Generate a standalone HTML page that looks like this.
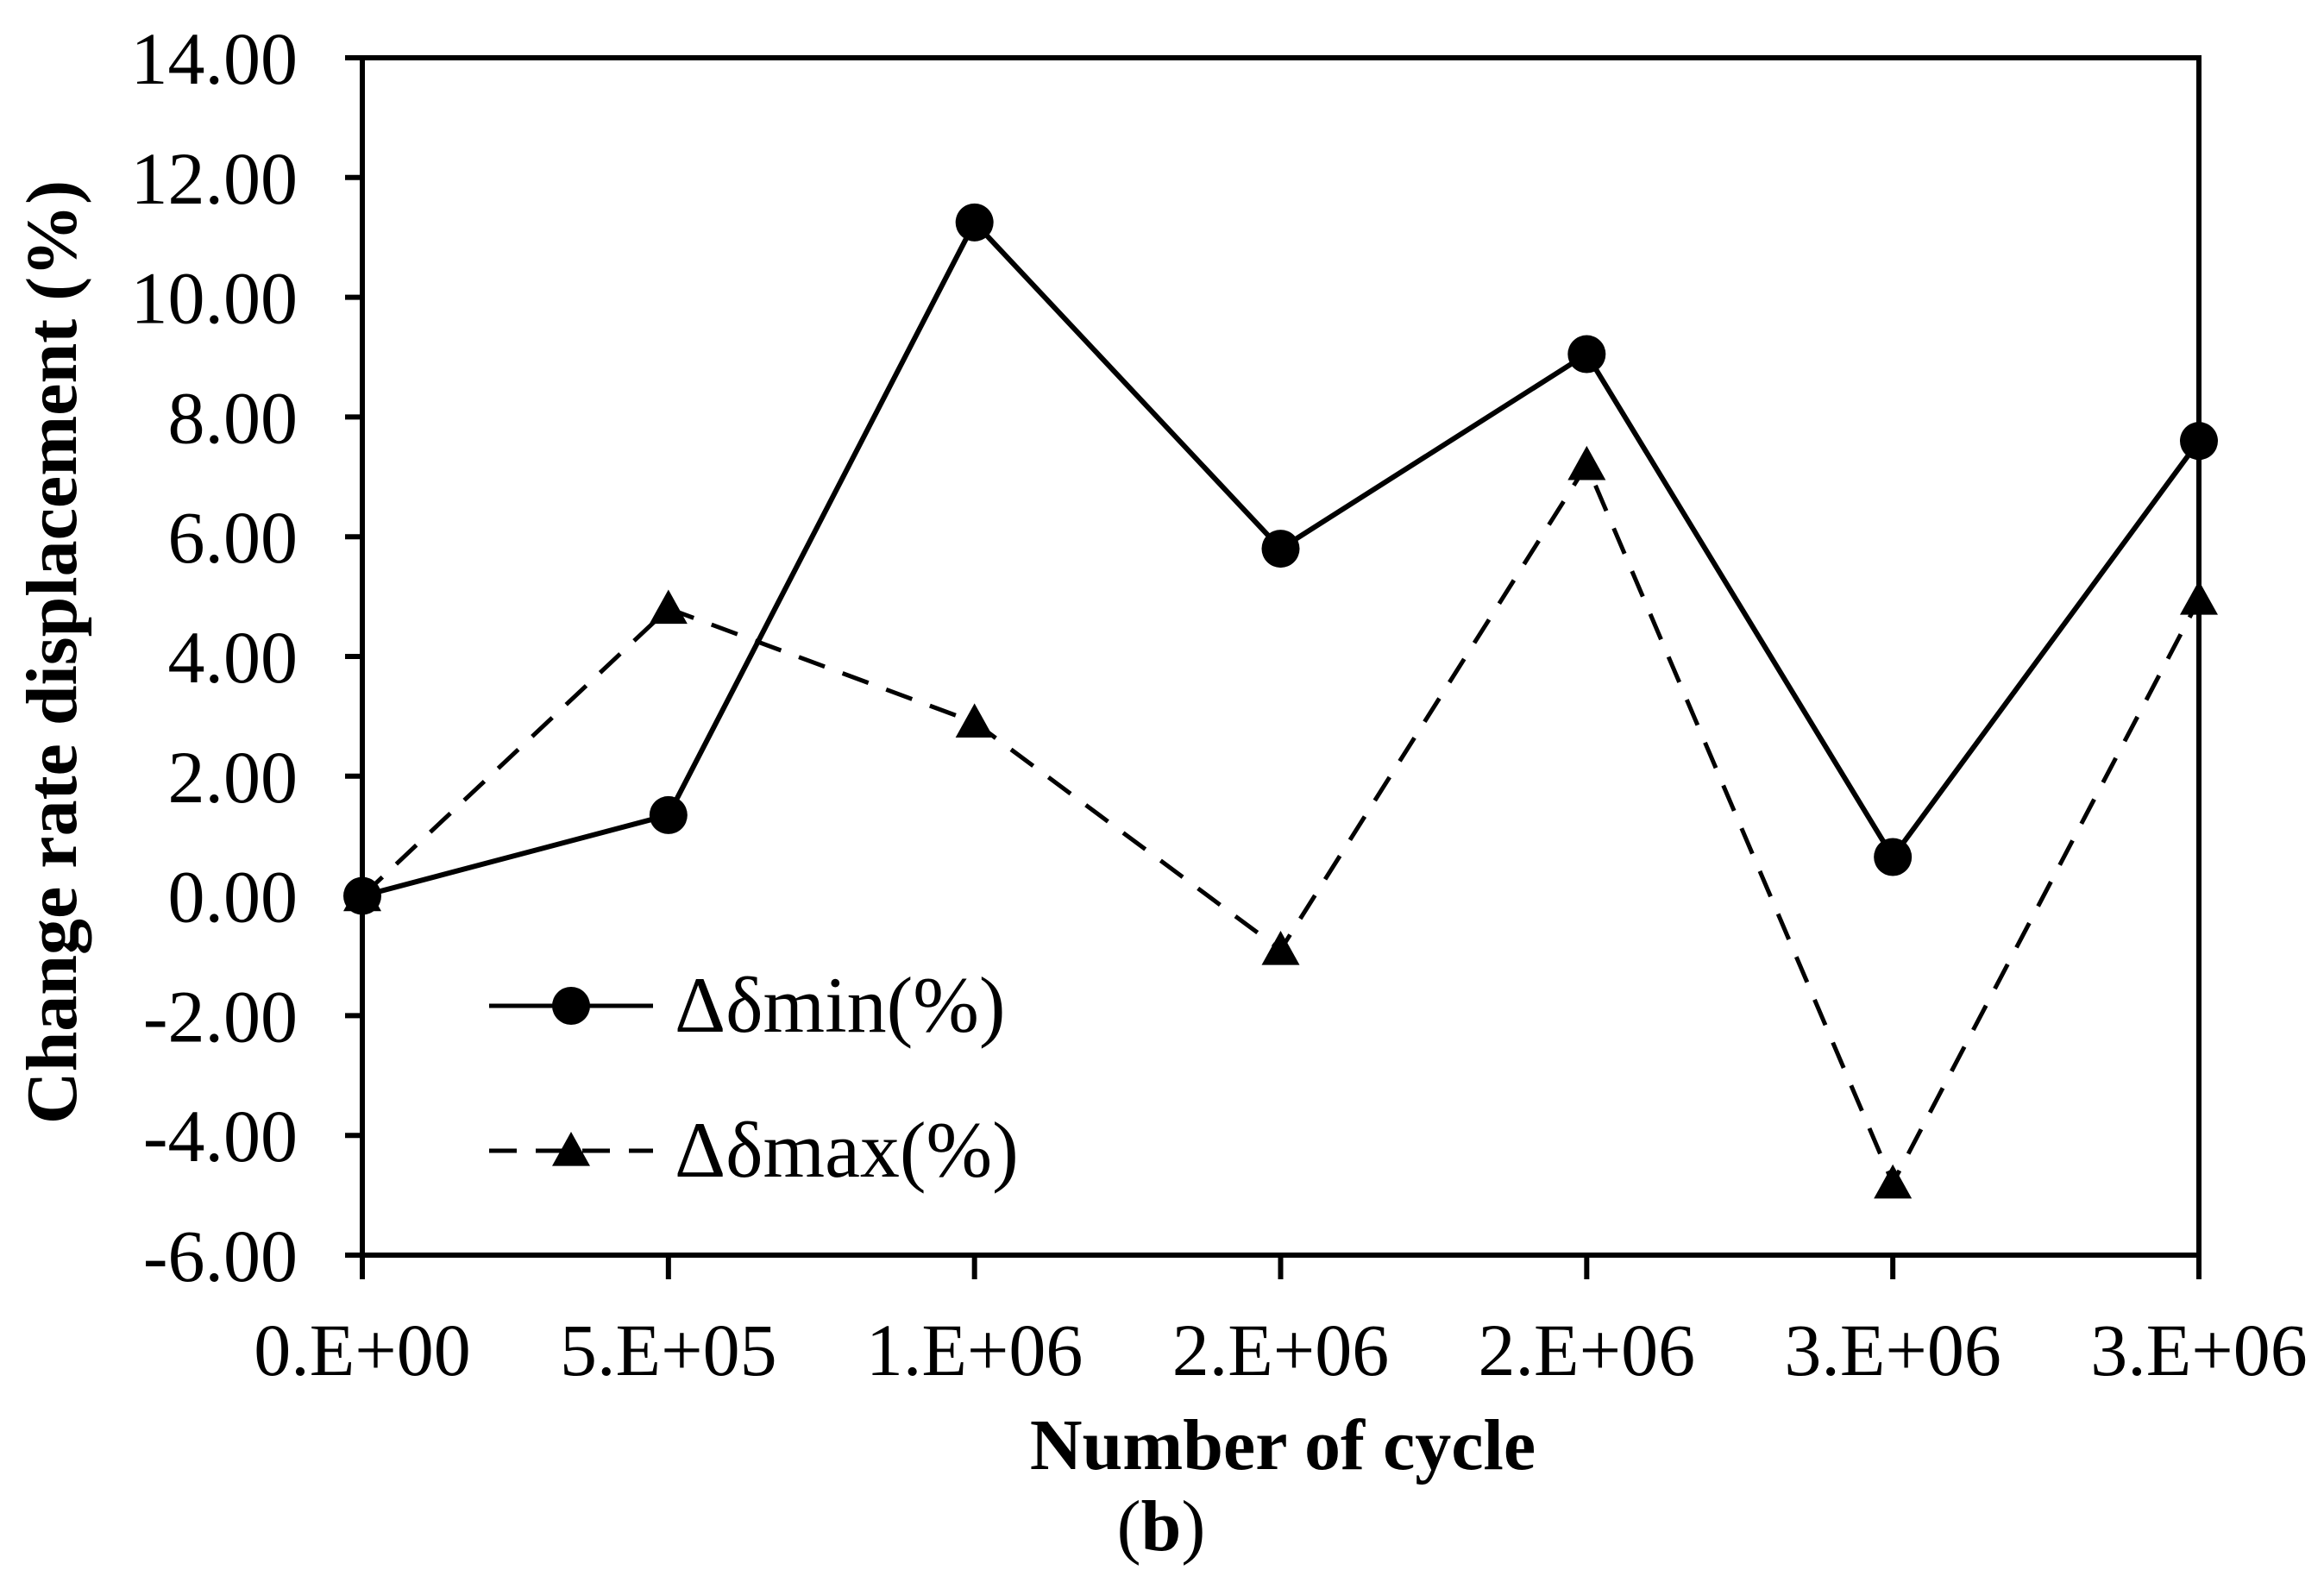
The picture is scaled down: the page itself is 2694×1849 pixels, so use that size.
<!DOCTYPE html>
<html><head><meta charset="utf-8"><style>html,body{margin:0;padding:0;background:#fff}svg{display:block}text{font-family:"Liberation Serif",serif;fill:#000}</style></head>
<body>
<svg id="chart" width="2694" height="1849" viewBox="0 0 2694 1849" xmlns="http://www.w3.org/2000/svg">
<g id="axes"></g><g id="series"></g><g id="legend"></g>
</svg>
<script>
const categories=["0.E+00","5.E+05","1.E+06","2.E+06","2.E+06","3.E+06","3.E+06"];
const minValues=[0,1.35,11.25,5.8,9.05,0.65,7.6];
const maxValues=[0,4.8,2.9,-0.9,7.2,-4.8,4.95];
const yTicks=[14,12,10,8,6,4,2,0,-2,-4,-6];
const NS="http://www.w3.org/2000/svg";
const X0=420,X1=2549,Y0=67,Y1=1455,YMAX=14,YMIN=-6;
function xs(i){return X0+(X1-X0)*i/(categories.length-1);}
function ys(v){return Y0+(YMAX-v)/(YMAX-YMIN)*(Y1-Y0);}
function mk(tag,attrs,parent,text){const e=document.createElementNS(NS,tag);for(const k in attrs)e.setAttribute(k,attrs[k]);if(text!==undefined)e.textContent=text;parent.appendChild(e);return e;}
const axes=document.getElementById('axes'),ser=document.getElementById('series'),leg=document.getElementById('legend');
let e;
e=mk('rect',{x:X0,y:Y0,width:X1-X0,height:Y1-Y0,fill:'none',stroke:'#000','stroke-width':6},axes);


yTicks.forEach(v=>{const y=ys(v);
 e=mk('line',{x1:X0-20,x2:X0,y1:y,y2:y,stroke:'#000','stroke-width':6},axes);
 
 
 e=mk('text',{x:345,y:y+30,'font-size':86,'text-anchor':'end'},axes,v.toFixed(2));
 
 
});
categories.forEach((c,i)=>{const x=xs(i);
 e=mk('line',{x1:x,x2:x,y1:Y1,y2:Y1+28,stroke:'#000','stroke-width':6},axes);
 
 
 e=mk('text',{x:x,y:1594,'font-size':86,'text-anchor':'middle'},axes,c);
 
 
});
e=mk('text',{x:1487,y:1703,'font-size':84,'font-weight':'bold','text-anchor':'middle'},axes,'Number of cycle');


e=mk('text',{x:0,y:0,'font-size':84,'font-weight':'bold','text-anchor':'middle',transform:'translate(88,756) rotate(-90)'},axes,'Change rate displacement (%)');


e=mk('text',{x:1346,y:1797,'font-size':84,'text-anchor':'middle'},axes,'');
e.innerHTML='(<tspan font-weight="bold">b</tspan>)';


function tri(x,y,p,name){const r=22;const t=mk('polygon',{points:`${x},${y-r} ${x+r},${y+r*0.8} ${x-r},${y+r*0.8}`,fill:'#000'},p);return t;}
e=mk('polyline',{points:maxValues.map((v,i)=>xs(i)+','+ys(v)).join(' '),fill:'none',stroke:'#000','stroke-width':5,'stroke-dasharray':'32,22'},ser);


e=mk('polyline',{points:minValues.map((v,i)=>xs(i)+','+ys(v)).join(' '),fill:'none',stroke:'#000','stroke-width':6},ser);


maxValues.forEach((v,i)=>tri(xs(i),ys(v),ser,'delta-max-point'));
minValues.forEach((v,i)=>{e=mk('circle',{cx:xs(i),cy:ys(v),r:22,fill:'#000'},ser);
 
 });
e=mk('line',{x1:567,x2:757,y1:1166,y2:1166,stroke:'#000','stroke-width':5},leg);


e=mk('circle',{cx:662,cy:1166,r:22,fill:'#000'},leg);


e=mk('text',{x:782,y:1196,'font-size':92},leg,'Δδmin(%)');


e=mk('line',{x1:567,x2:757,y1:1334,y2:1334,stroke:'#000','stroke-width':5,'stroke-dasharray':'32,22'},leg);


tri(662,1334,leg,'legend-max-marker');
e=mk('text',{x:782,y:1364,'font-size':92},leg,'Δδmax(%)');


</script>
</body></html>
